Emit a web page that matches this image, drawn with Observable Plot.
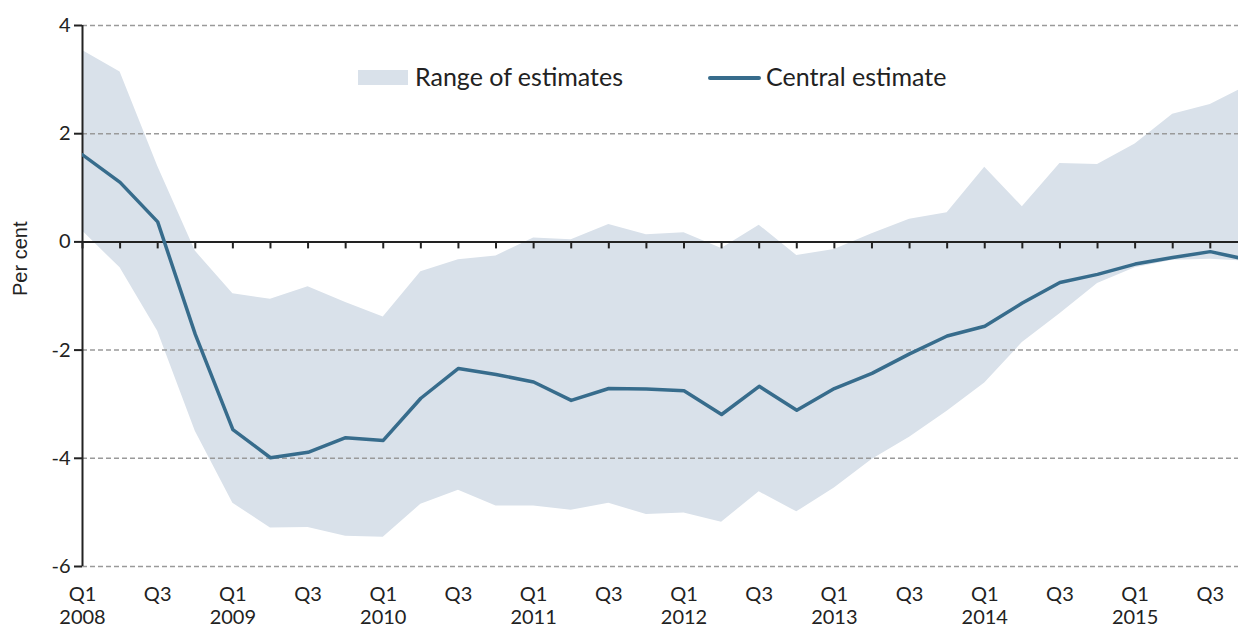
<!DOCTYPE html>
<html><head><meta charset="utf-8">
<script src="https://cdn.jsdelivr.net/npm/d3@7"></script>
<script src="https://cdn.jsdelivr.net/npm/@observablehq/plot@0.6"></script>
<style>
html,body{margin:0;padding:0;background:#fff;overflow:hidden}
#wrap{position:relative;width:1238px;height:630px;font-family:Lato, sans-serif}
.leg{position:absolute;font-size:25px;color:#222;line-height:1;white-space:nowrap}
.sw{position:absolute}
</style></head><body><div id="wrap"></div>
<script>
const periods = [
 "2008 Q1","2008 Q2","2008 Q3","2008 Q4",
 "2009 Q1","2009 Q2","2009 Q3","2009 Q4",
 "2010 Q1","2010 Q2","2010 Q3","2010 Q4",
 "2011 Q1","2011 Q2","2011 Q3","2011 Q4",
 "2012 Q1","2012 Q2","2012 Q3","2012 Q4",
 "2013 Q1","2013 Q2","2013 Q3","2013 Q4",
 "2014 Q1","2014 Q2","2014 Q3","2014 Q4",
 "2015 Q1","2015 Q2","2015 Q3","2015 Q4"];
const central = [1.61,1.10,0.37,-1.71, -3.47,-3.99,-3.89,-3.62, -3.67,-2.89,-2.34,-2.45,
 -2.59,-2.93,-2.71,-2.72, -2.75,-3.19,-2.67,-3.11, -2.71,-2.43,-2.07,-1.74,
 -1.56,-1.13,-0.75,-0.60, -0.41,-0.29,-0.18,-0.33];
const upper = [3.54,3.14,1.40,-0.17, -0.96,-1.06,-0.83,-1.12, -1.39,-0.55,-0.33,-0.26,
 0.07,0.04,0.32,0.13, 0.17,-0.12,0.31,-0.25, -0.14,0.15,0.42,0.54,
 1.38,0.65,1.45,1.43, 1.81,2.36,2.54,2.89];
const lower = [0.20,-0.48,-1.65,-3.50, -4.83,-5.29,-5.28,-5.44, -5.46,-4.85,-4.59,-4.88,
 -4.88,-4.96,-4.83,-5.04, -5.01,-5.18,-4.62,-4.99, -4.55,-4.02,-3.61,-3.13,
 -2.61,-1.86,-1.33,-0.77, -0.48,-0.34,-0.32,-0.36];
const yTicks = [-6,-4,-2,0,2,4];
const gridValues = [-6,-4,-2,2,4];
const legendLabels = ["Range of estimates","Central estimate"];
const yLabel = "Per cent";

const bandColor = "#d9e1ea";
const lineColor = "#376c8c";

const data = periods.map((p,i)=>({i, period:p, central:central[i], upper:upper[i], lower:lower[i]}));
const tickIdx = periods.map((p,i)=>i).filter(i=>i<=30);
const labelIdx = tickIdx.filter(i=>i%2===0);
function fmt(i){const [y,q]=periods[i].split(" "); return q==="Q1" ? `Q1\n${y}` : q;}

const chart = Plot.plot({
  width:1238, height:630, marginLeft:82, marginRight:0, marginTop:25, marginBottom:64,
  style:{fontFamily:"Lato, sans-serif", fontSize:"20px", color:"#222", background:"#fff", overflow:"visible"},
  x:{type:"linear", domain:[0,30.75]},
  y:{domain:[-6,4]},
  marks:[
    Plot.areaY(data,{x:"i", y1:"lower", y2:"upper", fill:bandColor, clip:true}),
    Plot.ruleY(gridValues,{stroke:"#9a9a9a", strokeWidth:1.5, strokeDasharray:"5,3"}),
    Plot.ruleY([0],{stroke:"#222", strokeWidth:2}),
    Plot.ruleX(tickIdx,{x:d=>d, y1:0, y2:0, insetBottom:-7, stroke:"#222", strokeWidth:2}),
    Plot.ruleX([0],{stroke:"#222", strokeWidth:2}),
    Plot.lineY(data,{x:"i", y:"central", stroke:lineColor, strokeWidth:3.5, clip:true}),
    Plot.axisY(yTicks,{tickSize:8, tickPadding:4, fontSize:20, stroke:"#222", strokeWidth:2, tickFormat:d=>String(d), label:null}),
    Plot.axisX(labelIdx,{tickSize:0, tickPadding:19, fontSize:20, lineHeight:1.12, tickFormat:fmt, label:null}),
    Plot.text([yLabel],{frameAnchor:"left", dx:-62, rotate:-90, fontSize:20, fontFamily:"Liberation Sans, sans-serif", text:d=>d, fill:"#222"})
  ]
});
const wrap = document.getElementById("wrap");
wrap.appendChild(chart);

function add(html){const d=document.createElement("div");d.innerHTML=html;wrap.appendChild(d.firstChild);}
add(`<div class="sw" style="left:358px;top:70px;width:50px;height:15px;background:${bandColor}"></div>`);
add(`<div class="leg" style="left:415px;top:64px">${legendLabels[0]}</div>`);
add(`<div class="sw" style="left:708px;top:76px;width:53px;height:4px;border-radius:2px;background:${lineColor}"></div>`);
add(`<div class="leg" style="left:766px;top:64px">${legendLabels[1]}</div>`);
</script></body></html>
